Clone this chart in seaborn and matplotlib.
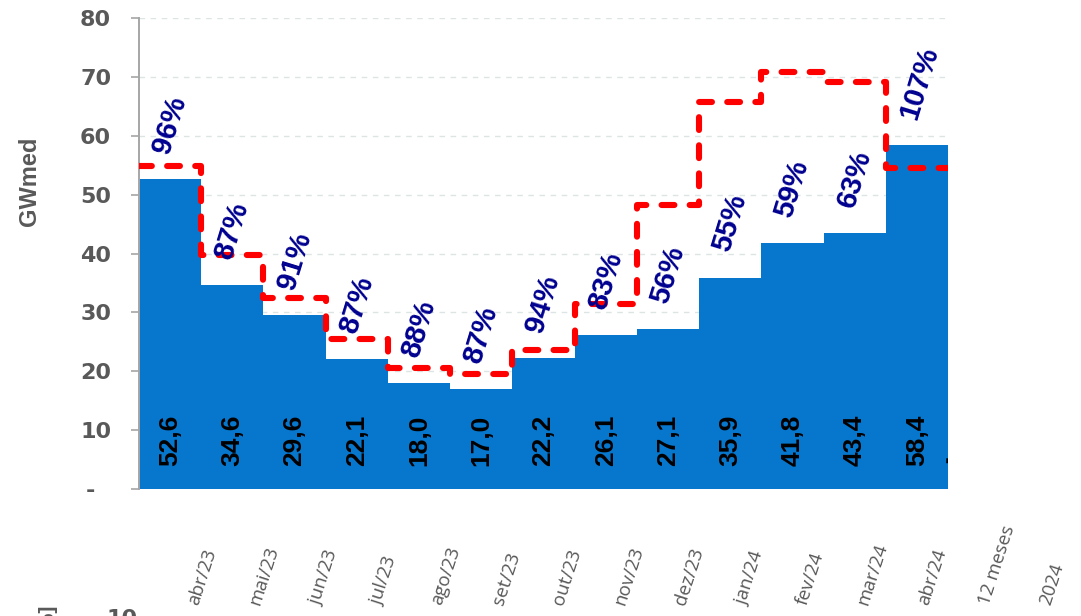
import numpy as np
import pandas as pd
import matplotlib
matplotlib.use("Agg")
import matplotlib.pyplot as plt
import seaborn as sns

# ---- data ----
months = ["abr/23", "mai/23", "jun/23", "jul/23", "ago/23", "set/23", "out/23",
          "nov/23", "dez/23", "jan/24", "fev/24", "mar/24", "abr/24"]
extra_labels = ["12 meses", "2024"]
ena_values = [52.6, 34.6, 29.6, 22.1, 18.0, 17.0, 22.2, 26.1, 27.1, 35.9, 41.8, 43.4, 58.4]
mlt_values = [54.8, 39.8, 32.5, 25.4, 20.5, 19.5, 23.6, 31.4, 48.2, 65.8, 70.9, 69.1, 54.6]
pct_labels = ["96%", "87%", "91%", "87%", "88%", "87%", "94%", "83%", "56%", "55%", "59%", "63%", "107%"]
value_labels = ["52,6", "34,6", "29,6", "22,1", "18,0", "17,0", "22,2", "26,1", "27,1",
                "35,9", "41,8", "43,4", "58,4"]
yticks = [0, 10, 20, 30, 40, 50, 60, 70, 80]
ytick_labels = ["-  ", "10", "20", "30", "40", "50", "60", "70", "80"]

BLUE = "#0777CD"
RED = "#FF0000"
NAVY = "#00008F"
GRAY = "#595959"

sns.set_style("white")
plt.rcParams["font.family"] = ["Liberation Sans", "DejaVu Sans"]

W, H = 1081, 616
fig = plt.figure(figsize=(W / 100, H / 100), dpi=100)
ax = fig.add_axes([139 / W, 1 - 489 / H, (948 - 139) / W, (489 - 18) / H])

df = pd.DataFrame({"mes": months, "ena": ena_values})
sns.barplot(data=df, x="mes", y="ena", color=BLUE, saturation=1, width=1.0,
            linewidth=0, ax=ax, zorder=2)

# red step line (MLT)
n = len(months)
edges = np.arange(n + 1) - 0.5
mlt_ext = list(mlt_values) + [mlt_values[-1]]
sns.lineplot(x=edges, y=mlt_ext, drawstyle="steps-post", color=RED, lw=4.4,
             linestyle=(0, (2.1, 2.5)), dash_capstyle="round", ax=ax, zorder=4)

ax.set_xlim(-0.5, n - 0.5)
ax.set_ylim(0, 80)
ax.set_xlabel("")
ax.set_ylabel("GWmed", fontsize=17, fontweight="bold", color=GRAY, va="center")
ax.yaxis.set_label_coords(-0.135, 0.654)

ax.set_yticks(yticks)
ax.set_yticklabels(ytick_labels, fontsize=16, fontweight="bold", color=GRAY,
                   family="DejaVu Sans")
ax.tick_params(axis="y", length=6, width=1.2, color="#A6A6A6", pad=14, left=True)
ax.set_xticks([])

ax.grid(axis="y", color="#DCE4E4", linestyle=(0, (4, 4)), linewidth=1.0, zorder=0)
ax.set_axisbelow(True)
for s in ["top", "right", "bottom"]:
    ax.spines[s].set_visible(False)
ax.spines["left"].set_color("#A6A6A6")
ax.spines["left"].set_linewidth(1.4)

# value labels inside bars
for i, lab in enumerate(value_labels):
    ax.text(i, 8.2, lab, rotation=90, ha="center", va="center", fontsize=19,
            fontweight="bold", color="black", zorder=5)

# percentage labels (anchored at their start, above each bar)
for i, (lab, v) in enumerate(zip(pct_labels, ena_values)):
    ax.text(i - 0.14, v + 4.5, lab, rotation=73, rotation_mode="anchor",
            ha="left", va="center", fontsize=21, fontweight="bold", color=NAVY,
            zorder=6)

# small dash at right edge
ax.text(n - 0.5, 5.0, "-", rotation=90, ha="center", va="center", fontsize=14,
        fontweight="bold", color="black", clip_on=False)

# x category labels (rotated, bottom aligned)
all_labels = months + extra_labels
for i, lab in enumerate(all_labels):
    ax.text(0.38 + 0.977 * i, -19.6, lab, rotation=72, rotation_mode="anchor",
            ha="left", va="center", fontsize=13.5, color=GRAY, family="Open Sans",
            clip_on=False)

# cut-off elements of the chart below
fig.text(47 / W, 1 - 604 / H, "[%]", rotation=90, ha="center", va="top",
         fontsize=15, fontweight="bold", color=GRAY)
fig.text(122 / W, 1 - 609 / H, "10", ha="center", va="top",
         fontsize=16, fontweight="bold", color=GRAY, family="DejaVu Sans")

fig.savefig("out.png", dpi=100)
